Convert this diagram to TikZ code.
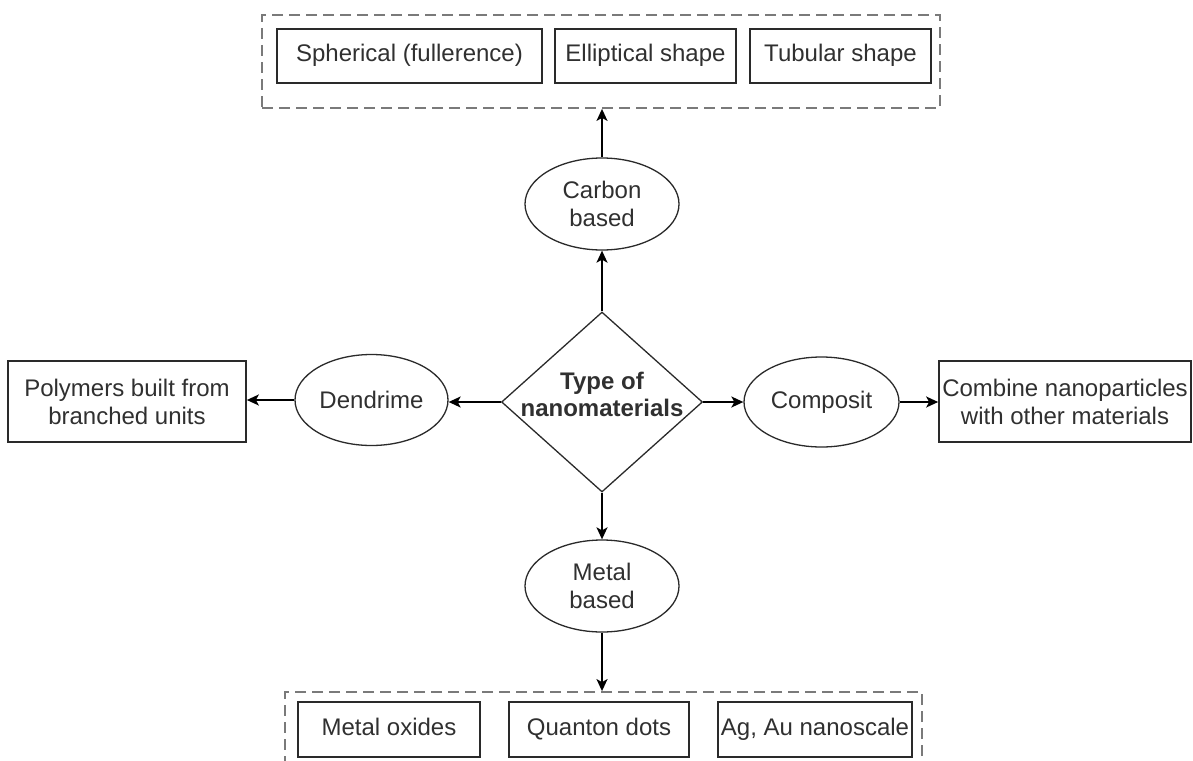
\documentclass[tikz,border=0pt]{standalone}
\usepackage{fontspec}
\setmainfont{Liberation Sans}
\usetikzlibrary{shapes.geometric,arrows.meta}

\definecolor{ink}{HTML}{2A2A2A}
\definecolor{txt}{HTML}{303030}
\definecolor{dashgray}{HTML}{7A7A7A}

\tikzset{
  base/.style={font=\fontsize{24}{28}\selectfont, text=txt, align=center, inner sep=0pt},
  itembox/.style={base, draw=ink, line width=1.7pt, rectangle, minimum height=54pt,
                  text height=17pt, text depth=5pt},
  infobox/.style={base, draw=ink, line width=1.7pt, rectangle, minimum height=81pt},
  oval/.style={base, draw=ink, line width=1.3pt, ellipse, minimum width=154pt, minimum height=92pt},
  decision/.style={draw=ink, line width=1.3pt, diamond, inner sep=0pt, aspect=1.117,
                   minimum width=201pt, minimum height=180pt},
  group/.style={draw=dashgray, line width=1.8pt, dash pattern=on 11pt off 6pt, rectangle, inner sep=0pt},
  link/.style={draw=black, line width=1.8pt, -{Stealth[length=12pt, width=11pt, inset=3pt]}}
}

\begin{document}
\begin{tikzpicture}[x=1pt, y=-1pt]
  \useasboundingbox (0,0) rectangle (1193,760);

  % dashed groups
  \node[group, minimum width=678pt, minimum height=93pt] (tgroup) at (601,61.5) {};
  \node[group, minimum width=637pt, minimum height=90pt] (bgroup) at (603.5,737) {};

  % carbon based shapes
  \node[itembox, minimum width=265pt] (sph) at (409.5,56) {Spherical (fullerence)};
  \node[itembox, minimum width=181pt] (ell) at (645.5,56) {Elliptical shape};
  \node[itembox, minimum width=181pt] (tub) at (840.5,56) {Tubular shape};

  % metal based kinds
  \node[itembox, minimum width=182pt, minimum height=55pt] (oxi) at (389,729.5) {Metal oxides};
  \node[itembox, minimum width=180pt, minimum height=55pt] (qdot) at (599,729.5) {Quanton dots};
  \node[itembox, minimum width=194pt, minimum height=55pt] (agau) at (815,729.5) {Ag, Au nanoscale};

  % central decision
  \node[decision] (type) at (602,402) {};
  \node[base, font=\fontsize{24}{27}\selectfont\bfseries] (typetext) at (602,394) {Type of\\nanomaterials};

  % categories
  \node[oval] (carbon) at (602,204) {Carbon\\based};
  \node[oval] (metal) at (602,586) {Metal\\based};
  \node[oval, minimum width=153pt, minimum height=91pt] (dend) at (371.5,400) {Dendrime};
  \node[oval, minimum width=155pt, minimum height=90pt] (comp) at (821.5,402) {Composit};

  % descriptions
  \node[infobox, minimum width=238pt] (poly) at (127,401.5) {Polymers built from\\branched units};
  \node[infobox, minimum width=252pt] (comb) at (1065,401.5) {Combine nanoparticles\\with other materials};

  % connectors
  \draw[link] (type.north) -- (carbon.south);
  \draw[link] (carbon.north) -- (carbon.north |- tgroup.south);
  \draw[link] (type.south) -- (metal.north);
  \draw[link] (metal.south) -- (metal.south |- bgroup.north);
  \draw[link] (type.west) -- (dend.east |- type.west);
  \draw[link] (dend.west) -- (poly.east |- dend.west);
  \draw[link] (type.east) -- (comp.west);
  \draw[link] (comp.east) -- (comb.west |- comp.east);
\end{tikzpicture}
\end{document}
